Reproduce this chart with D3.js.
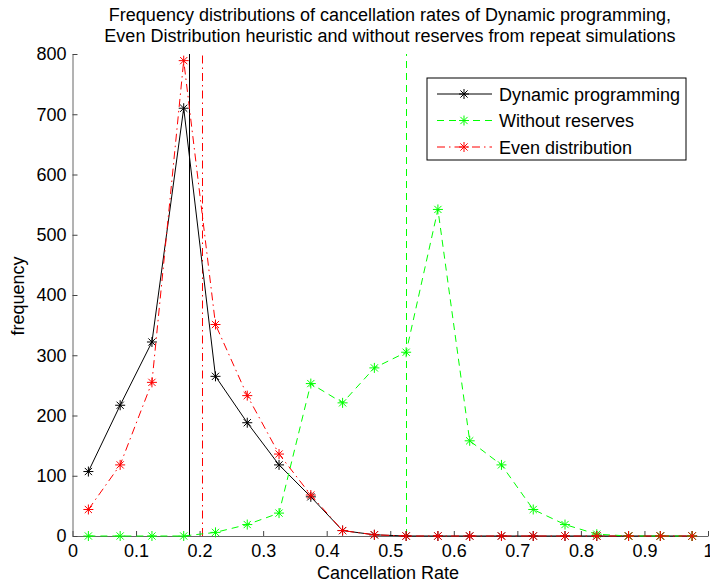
<!DOCTYPE html>
<html><head><meta charset="utf-8">
<script src="https://cdn.jsdelivr.net/npm/d3@7"></script>
<style>body{margin:0;background:#fff;}text{font-family:"Liberation Sans",Arial,sans-serif;}</style>
</head><body><svg id="c" width="710" height="584"></svg>
<script>
const binCenters = [0.025,0.075,0.125,0.175,0.225,0.275,0.325,0.375,0.425,0.475,0.525,0.575,0.625,0.675,0.725,0.775,0.825,0.875,0.925,0.975];
const dynamicProg = [107,217,322,710,265,188,118,65,9,2,0,0,0,0,0,0,0,0,0,0];
const withoutReserves = [0,0,0,0,6,19,38,253,221,279,305,542,158,118,44,19,3,0,0,0];
const evenDist = [44,118,255,789,351,233,136,68,9,2,0,0,0,0,0,0,0,0,0,0];
const means = [0.183, 0.524, 0.203];
const seriesNames = ["Dynamic programming","Without reserves","Even distribution"];
const seriesColors = ["#000000","#00ff00","#ff0000"];
const seriesDash = [null,"7,5","8,4,1.5,4"];
const xTicks = [0,0.1,0.2,0.3,0.4,0.5,0.6,0.7,0.8,0.9,1];
const xTickLabels = ["0","0.1","0.2","0.3","0.4","0.5","0.6","0.7","0.8","0.9","1"];
const yTicks = [0,100,200,300,400,500,600,700,800];
const titleLines = ["Frequency distributions of cancellation rates of Dynamic programming,","Even Distribution heuristic and without reserves from repeat simulations"];

const svg = d3.select("#c");
const L=72.5,R=708,T=54,B=536;
const FS=18;
const x = d3.scaleLinear().domain([0,1]).range([L,R]);
const y = d3.scaleLinear().domain([0,800]).range([B,T]);
const allSeries = [dynamicProg, withoutReserves, evenDist];

// axes
const xa = svg.append("g").attr("transform",`translate(0,${B})`)
  .call(d3.axisBottom(x).tickValues(xTicks).tickFormat((d,i)=>xTickLabels[i]).tickSizeInner(-5).tickSizeOuter(0).tickPadding(8));
const ya = svg.append("g").attr("transform",`translate(${L},0)`)
  .call(d3.axisLeft(y).tickValues(yTicks).tickSizeInner(-5).tickSizeOuter(0).tickPadding(6));
[xa,ya].forEach(a=>{a.selectAll("path").attr("stroke","#666");a.selectAll("line").attr("stroke","#444");
  a.selectAll("text").attr("font-size",FS).attr("fill","#000").style("font-family","Liberation Sans, Arial, sans-serif");});
xa.selectAll("text").attr("dy","0.71em");

// vertical mean lines
means.forEach((m,i)=>{
  const px = Math.round(x(m))+0.5;
  svg.append("line").attr("x1",px).attr("x2",px).attr("y1",y(0)).attr("y2",y(800))
    .style("stroke",seriesColors[i]).attr("stroke-width",1).attr("stroke-dasharray",seriesDash[i]);
});

function star(g,cx,cy,col){
  const r=5, d=3.6;
  g.append("path").attr("d",`M${cx-r},${cy}L${cx+r},${cy}M${cx},${cy-r}L${cx},${cy+r}M${cx-d},${cy-d}L${cx+d},${cy+d}M${cx-d},${cy+d}L${cx+d},${cy-d}`)
    .attr("stroke",col).attr("stroke-width",1).attr("fill","none");
}
const line = d3.line().x((d,i)=>x(binCenters[i])).y(d=>y(d));
allSeries.forEach((s,k)=>{
  const g = svg.append("g");
  g.append("path").datum(s).attr("d",line).attr("fill","none").attr("stroke",seriesColors[k]).attr("stroke-width",1).attr("stroke-dasharray",seriesDash[k]);
  s.forEach((v,i)=>star(g,x(binCenters[i]),y(v),seriesColors[k]));
});

// title & labels
titleLines.forEach((t,i)=>svg.append("text").attr("x",390).attr("y",21+i*21).attr("text-anchor","middle").attr("font-size",FS).text(t));
svg.append("text").attr("x",388).attr("y",579).attr("text-anchor","middle").attr("font-size",FS).text("Cancellation Rate");
svg.append("text").attr("transform","translate(24,296) rotate(-90)").attr("text-anchor","middle").attr("font-size",FS).text("frequency");

// legend
const lg = svg.append("g");
lg.append("rect").attr("x",427).attr("y",78).attr("width",259).attr("height",82).attr("fill","#fff").attr("stroke","#000").attr("stroke-width",1);
seriesNames.forEach((n,i)=>{
  const yy = 94+i*26.5;
  lg.append("line").attr("x1",437).attr("x2",492).attr("y1",yy).attr("y2",yy).attr("stroke",seriesColors[i]).attr("stroke-dasharray",seriesDash[i]);
  star(lg,464,yy,seriesColors[i]);
  lg.append("text").attr("x",499).attr("y",yy+6.5).attr("font-size",FS).text(n);
});
</script></body></html>
